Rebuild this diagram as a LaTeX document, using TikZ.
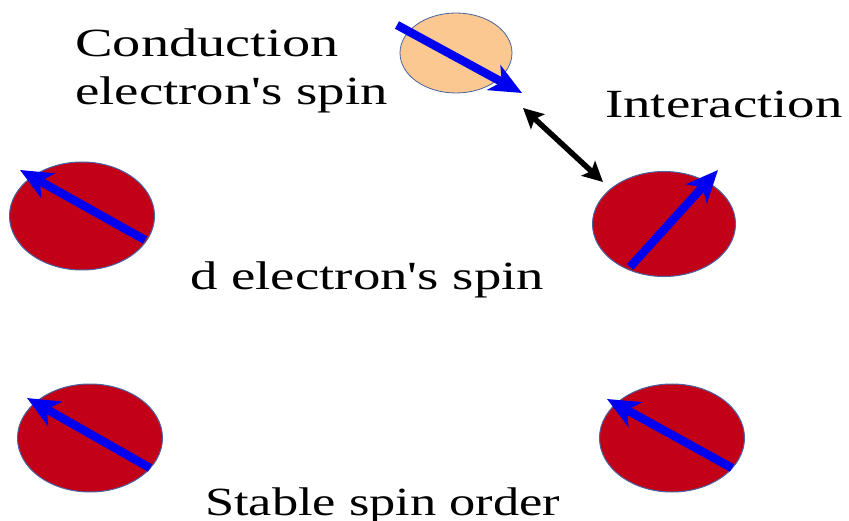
\documentclass[tikz,border=0pt]{standalone}
\usepackage{fontspec}
\setmainfont{Liberation Serif}
\usetikzlibrary{shapes.geometric,arrows.meta}
\definecolor{spinred}{HTML}{C20018}
\definecolor{rimblue}{HTML}{4A64A0}
\definecolor{peach}{HTML}{FAC890}
\definecolor{spinblue}{HTML}{0000F0}
\tikzset{
  datom/.style={ellipse, fill=spinred, draw=rimblue, line width=1pt, inner sep=0pt, outer sep=0pt},
  catom/.style={ellipse, fill=peach, draw=rimblue, line width=0.8pt, inner sep=0pt, outer sep=0pt},
  spin/.style={draw=spinblue, line width=8.5pt, -{Stealth[length=32pt,width=28pt,inset=9pt,fill=spinblue]}},
  inter/.style={draw=black, line width=5.5pt, {Stealth[length=20pt,width=20pt,inset=4pt]}-{Stealth[length=20pt,width=20pt,inset=4pt]}},
  lbl/.style={anchor=base west, inner sep=0pt, font=\fontsize{40}{46}\selectfont}
}
\newcommand{\wide}[2][1.37]{\scalebox{#1}[1]{#2}}
\begin{document}
\begin{tikzpicture}[x=1pt,y=-1pt]
\useasboundingbox[fill=white] (0,0) rectangle (849,521);
% atoms
\node[catom, minimum width=112, minimum height=80] (c) at (456,53) {};
\node[datom, minimum width=145, minimum height=108] (d1) at (82,216) {};
\node[datom, minimum width=143, minimum height=105] (d2) at (664,224) {};
\node[datom, minimum width=145, minimum height=108] (d3) at (90,438) {};
\node[datom, minimum width=145, minimum height=108] (d4) at (672,438) {};
% spin ends
\coordinate (cs) at (397,25); \coordinate (ce) at (522,93);
\coordinate (s1) at (145,240); \coordinate (e1) at (20,170);
\coordinate (s2) at (630,267); \coordinate (e2) at (718,170);
\coordinate (s3) at (150,468); \coordinate (e3) at (27,398);
\coordinate (s4) at (732,468); \coordinate (e4) at (607,399);
\draw[spin] (cs) -- (ce);
\draw[spin] (s1) -- (e1);
\draw[spin] (s2) -- (e2);
\draw[spin] (s3) -- (e3);
\draw[spin] (s4) -- (e4);
% interaction
\coordinate (ia) at (523,108); \coordinate (ib) at (603,182);
\draw[inter] (ia) -- (ib);
% labels
\node[lbl] (t1) at (75,57) {\wide[1.41]{Conduction}};
\node[lbl] (t2) at (75,105) {\wide{electron\textquotesingle s spin}};
\node[lbl] (t3) at (605,118) {\wide{Interaction}};
\node[lbl] (t4) at (190,290) {\wide{d electron\textquotesingle s spin}};
\node[lbl] (t5) at (205,515) {\wide[1.31]{Stable spin order}};
\end{tikzpicture}
\end{document}
